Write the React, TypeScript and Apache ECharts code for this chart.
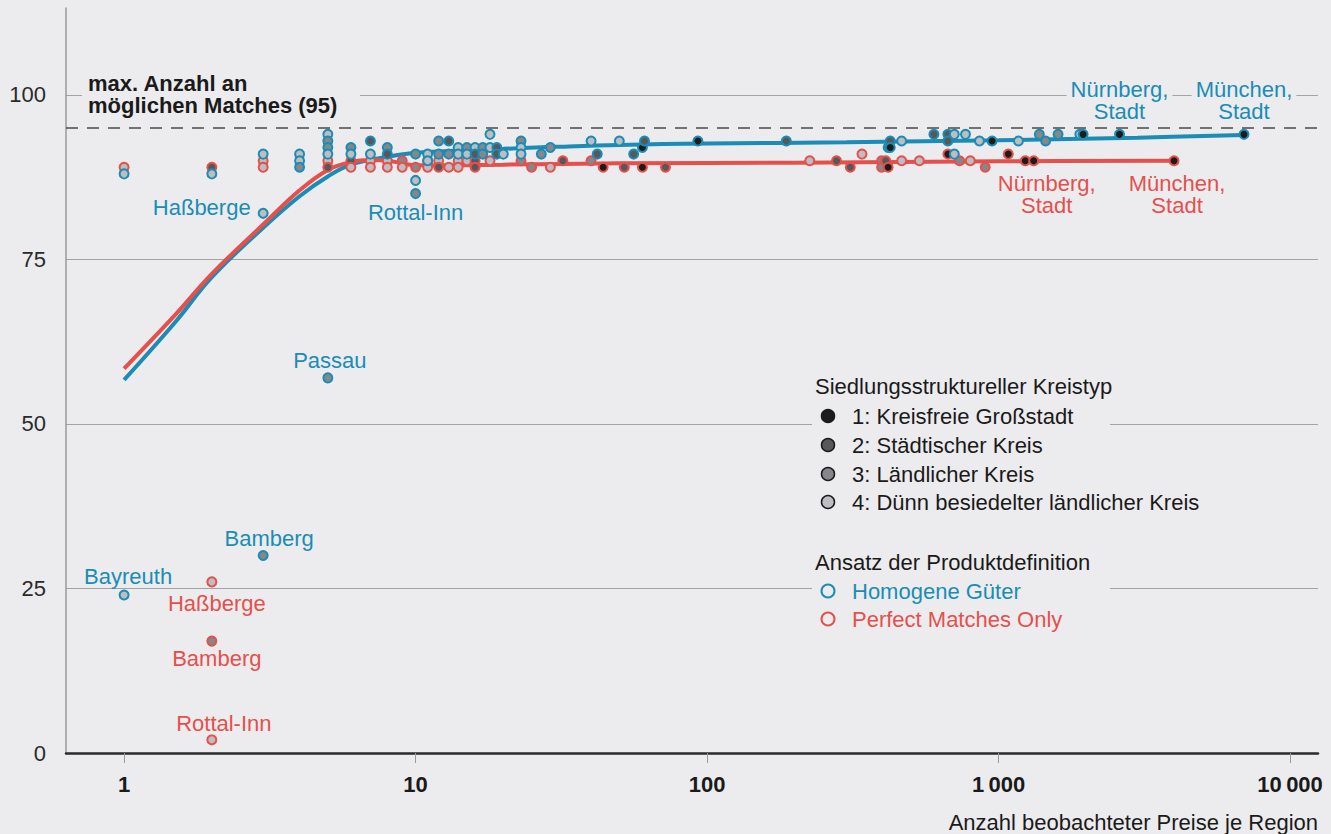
import React, { useEffect, useRef } from "react";
import * as echarts from "echarts";

// ---------- data ----------
// [anzahl beobachteter Preise, Anzahl Matches, Kreistyp]
const homogeneGueter: [number, number, number][] = [
  [1, 88, 4], [1, 24, 4],
  [2, 88, 4],
  [3, 91, 4], [3, 82, 4], [3, 30, 3],
  [4, 91, 4], [4, 90, 4], [4, 89, 3],
  [5, 94, 4], [5, 93, 3], [5, 92, 3], [5, 91, 4], [5, 57, 3],
  [6, 92, 3], [6, 91, 4],
  [7, 93, 2], [7, 91, 4],
  [8, 92, 3], [8, 91, 2],
  [10, 91, 3], [10, 87, 4], [10, 85, 3],
  [11, 91, 4], [11, 90, 4],
  [12, 93, 3], [12, 91, 3],
  [13, 93, 2], [13, 91, 3],
  [14, 92, 4], [14, 91, 4],
  [15, 92, 3], [15, 91, 4],
  [16, 92, 4], [16, 91, 2],
  [17, 92, 3], [17, 91, 3],
  [18, 94, 4], [18, 92, 4],
  [19, 92, 2], [19, 91, 2],
  [20, 91, 4],
  [23, 93, 3], [23, 92, 4], [23, 91, 4],
  [27, 91, 3], [29, 92, 3],
  [40, 93, 4], [42, 91, 2], [50, 93, 4], [56, 91, 2], [60, 92, 1], [61, 93, 2],
  [93, 93, 1], [187, 93, 2],
  [418, 92, 3], [425, 93, 2], [425, 92, 1], [465, 93, 4],
  [600, 94, 2], [670, 94, 2], [670, 93, 2], [705, 94, 4], [705, 91, 4], [770, 94, 4],
  [860, 93, 4], [950, 93, 1], [1170, 93, 4], [1380, 94, 3], [1450, 93, 3],
  [1600, 94, 3], [1900, 94, 4], [1950, 94, 1], [2600, 94, 1], [6950, 94, 1],
];

const perfectMatches: [number, number, number][] = [
  [1, 89, 4],
  [2, 89, 2], [2, 26, 4], [2, 17, 3], [2, 2, 4],
  [3, 90, 4], [3, 89, 4],
  [5, 90, 4], [5, 89, 2],
  [6, 90, 2], [6, 89, 4],
  [7, 90, 4], [7, 89, 4],
  [8, 90, 4], [8, 89, 4],
  [9, 90, 3], [9, 89, 4],
  [10, 89, 3],
  [11, 90, 4], [11, 89, 4],
  [12, 90, 4], [12, 89, 2],
  [13, 89, 4],
  [14, 90, 4], [14, 89, 4],
  [15, 90, 4],
  [16, 90, 2], [16, 89, 2],
  [18, 90, 4], [23, 90, 3], [25, 89, 3], [29, 89, 4], [32, 90, 2],
  [40, 90, 3], [44, 89, 1], [52, 89, 2], [60, 89, 1], [72, 89, 2],
  [225, 90, 4], [278, 90, 2], [310, 89, 2], [340, 91, 4],
  [397, 90, 3], [397, 89, 3], [410, 90, 2], [418, 89, 1],
  [465, 90, 4], [535, 90, 4], [670, 91, 1], [735, 90, 3], [800, 90, 4],
  [900, 89, 3], [1080, 91, 1], [1235, 90, 1], [1320, 90, 1], [4000, 90, 1],
];

// trend lines (smoothed fits)
const trendHomogene: [number, number][] = [
  [1, 56.7], [1.5, 65.5], [2, 72.3], [3, 79.8], [4, 84.6], [5, 87.6], [6, 89.4],
  [8, 90.6], [10, 91.2], [12, 91.4], [20, 91.8], [30, 92.1], [50, 92.4],
  [100, 92.6], [300, 92.8], [1000, 93.1], [3000, 93.5], [6950, 93.9],
];
const trendPerfect: [number, number][] = [
  [1, 58.4], [1.5, 66.6], [2, 72.8], [3, 80.3], [4, 85.5], [5, 88.6], [6, 89.8],
  [7, 90.1], [8, 90.0], [9, 89.6], [10, 89.3], [12, 89.3], [20, 89.4],
  [50, 89.6], [200, 89.7], [1000, 89.9], [4000, 90.0],
];

const maxMatches = 95;
const xTicks = [1, 10, 100, 1000, 10000];
const yTicks = [0, 25, 50, 75, 100];

// region names keyed by "n|v"
const homogeneNames: Record<string, string> = {
  "1|24": "Bayreuth",
  "3|82": "Haßberge",
  "3|30": "Bamberg",
  "5|57": "Passau",
  "10|85": "Rottal-Inn",
  "2600|94": "Nürnberg,\nStadt",
  "6950|94": "München,\nStadt",
};
const perfectNames: Record<string, string> = {
  "2|26": "Haßberge",
  "2|17": "Bamberg",
  "2|2": "Rottal-Inn",
  "1320|90": "Nürnberg,\nStadt",
  "4000|90": "München,\nStadt",
};

const kreistypen = [
  "1: Kreisfreie Großstadt",
  "2: Städtischer Kreis",
  "3: Ländlicher Kreis",
  "4: Dünn besiedelter ländlicher Kreis",
];
const ansaetze = ["Homogene Güter", "Perfect Matches Only"];

// ---------- styles ----------
const BG = "#ececee";
const BLUE = "#1a8cb5";
const RED = "#e5504d";
const FILLS: Record<number, string> = { 1: "#1c1c1c", 2: "#57585a", 3: "#86878a", 4: "#bdbec1" };
const FONT = "'Liberation Sans', Arial, Helvetica, sans-serif";

const labelPlacement: Record<string, any> = {
  "H|1|24": { position: "top", distance: 2, offset: [4, 0] },
  "H|3|82": { position: "left", distance: 3, offset: [0, -6] },
  "H|3|30": { position: "top", distance: 1, offset: [6, 0] },
  "H|5|57": { position: "top", distance: 1, offset: [2, 0] },
  "H|10|85": { position: "bottom", distance: 2, offset: [0, 0] },
  "H|2600|94": { position: "top", distance: 6, offset: [0, 0] },
  "H|6950|94": { position: "top", distance: 6, offset: [0, 0] },
  "P|2|26": { position: "bottom", distance: 5, offset: [5, 0] },
  "P|2|17": { position: "bottom", distance: 1, offset: [5, 0] },
  "P|2|2": { position: "top", distance: 0, offset: [12, 0] },
  "P|1320|90": { position: "bottom", distance: 6, offset: [13, 0] },
  "P|4000|90": { position: "bottom", distance: 6, offset: [3, 0] },
};

function buildPoints(pts: [number, number, number][], names: Record<string, string>, color: string, key: string) {
  return pts.map(([n, v, t]) => {
    const k = `${n}|${v}`;
    const item: any = {
      value: [n, v],
      itemStyle: { color: FILLS[t], borderColor: color, borderWidth: 2, opacity: 1 },
    };
    if (names[k]) {
      const pl = labelPlacement[`${key}|${k}`] || { position: "top", distance: 4 };
      item.label = {
        show: true,
        formatter: names[k],
        position: pl.position,
        distance: pl.distance,
        offset: pl.offset,
        color,
        fontSize: 22,
        fontFamily: FONT,
        lineHeight: 22,
        backgroundColor: BG,
        padding: [0, 4, 0, 4],
      };
    }
    return item;
  });
}

function fmtX(v: number) {
  const s = String(Math.round(v));
  return s.length > 3 ? s.slice(0, s.length - 3) + "\u2009" + s.slice(s.length - 3) : s;
}

export default function App() {
  const ref = useRef<HTMLDivElement>(null);
  useEffect(() => {
    if (!ref.current) return;
    const chart = echarts.init(ref.current, undefined, { renderer: "svg" });

    const legendX = 815;
    const graphic: any[] = [
      { type: "rect", z: 100, shape: { x: 82, y: 70, width: 278, height: 48 }, style: { fill: BG } },
      {
        type: "text", z: 101, x: 88, y: 72,
        style: {
          text: "max. Anzahl an\nmöglichen Matches (95)",
          fontSize: 22, fontWeight: "bold", fontFamily: FONT, fill: "#1a1a1a",
          lineHeight: 22, align: "left", verticalAlign: "top",
        },
      },
      { type: "rect", z: 100, shape: { x: 812, y: 372, width: 298, height: 262 }, style: { fill: BG } },
      {
        type: "text", z: 101, x: legendX, y: 386,
        style: { text: "Siedlungsstruktureller Kreistyp", fontSize: 22, fontFamily: FONT, fill: "#1a1a1a", align: "left", verticalAlign: "middle" },
      },
      {
        type: "text", z: 101, x: legendX, y: 562,
        style: { text: "Ansatz der Produktdefinition", fontSize: 22, fontFamily: FONT, fill: "#1a1a1a", align: "left", verticalAlign: "middle" },
      },
      {
        type: "text", z: 101, x: 1318, y: 822,
        style: { text: "Anzahl beobachteter Preise je Region", fontSize: 22, fontFamily: FONT, fill: "#1a1a1a", align: "right", verticalAlign: "middle" },
      },
    ];
    const kY = [416, 445, 474, 502];
    kreistypen.forEach((t, i) => {
      graphic.push({
        type: "circle", z: 101, shape: { cx: 828, cy: kY[i], r: 6.5 },
        style: { fill: FILLS[i + 1], stroke: "#1a1a1a", lineWidth: 1.5 },
      });
      graphic.push({
        type: "text", z: 101, x: 852, y: kY[i],
        style: { text: t, fontSize: 22, fontFamily: FONT, fill: "#1a1a1a", align: "left", verticalAlign: "middle" },
      });
    });
    const aY = [591, 619];
    const aC = [BLUE, RED];
    ansaetze.forEach((t, i) => {
      graphic.push({
        type: "circle", z: 101, shape: { cx: 828, cy: aY[i], r: 6.5 },
        style: { fill: "none", stroke: aC[i], lineWidth: 2 },
      });
      graphic.push({
        type: "text", z: 101, x: 852, y: aY[i],
        style: { text: t, fontSize: 22, fontFamily: FONT, fill: aC[i], align: "left", verticalAlign: "middle" },
      });
    });

    chart.setOption({
      animation: false,
      backgroundColor: BG,
      grid: { left: 66, right: 13, top: 8, bottom: 81, containLabel: false },
      xAxis: {
        type: "log",
        logBase: 10,
        min: 0.632,
        max: 12470,
        axisLine: { show: true, lineStyle: { color: "#2a2a2a", width: 2.5 } },
        axisTick: { show: true, customValues: xTicks, length: 10, lineStyle: { color: "#9a9a9a", width: 1 } },
        axisLabel: {
          customValues: xTicks,
          formatter: (v: number) => fmtX(v),
          fontSize: 22, fontWeight: "bold", fontFamily: FONT, color: "#1a1a1a", margin: 20,
        },
        splitLine: { show: false },
        minorTick: { show: false },
      },
      yAxis: {
        type: "value",
        min: 0,
        max: 113.2,
        interval: 25,
        axisLine: { show: true, lineStyle: { color: "#9a9a9a", width: 1.5 } },
        axisTick: { show: false },
        axisLabel: {
          customValues: yTicks,
          fontSize: 22, fontFamily: FONT, color: "#2a2a2a", margin: 20,
        },
        splitLine: { show: true, showMinLine: false, showMaxLine: false, lineStyle: { color: "#a3a3a3", width: 1 } },
      },
      graphic,
      series: [
        {
          type: "line",
          name: "Homogene Güter Trend",
          data: trendHomogene,
          smooth: 0.4,
          showSymbol: false,
          lineStyle: { color: BLUE, width: 4 },
          z: 2,
          markLine: {
            silent: true,
            symbol: ["none", "none"],
            label: { show: false },
            lineStyle: { color: "#4a4a4a", type: [12, 9], width: 1.5 },
            data: [{ yAxis: maxMatches }],
          },
        },
        {
          type: "line",
          name: "Perfect Matches Only Trend",
          data: trendPerfect,
          smooth: 0.4,
          showSymbol: false,
          lineStyle: { color: RED, width: 4 },
          z: 2,
        },
        {
          type: "scatter",
          name: "Perfect Matches Only",
          data: buildPoints(perfectMatches, perfectNames, RED, "P"),
          symbolSize: 9,
          itemStyle: { opacity: 1 },
          z: 3,
        },
        {
          type: "scatter",
          name: "Homogene Güter",
          data: buildPoints(homogeneGueter, homogeneNames, BLUE, "H"),
          symbolSize: 9,
          itemStyle: { opacity: 1 },
          z: 3,
        },
      ],
    });
    return () => chart.dispose();
  }, []);

  return (
    <div
      ref={ref}
      style={{ position: "fixed", left: 0, top: 0, width: 1331, height: 834, background: BG }}
    />
  );
}
